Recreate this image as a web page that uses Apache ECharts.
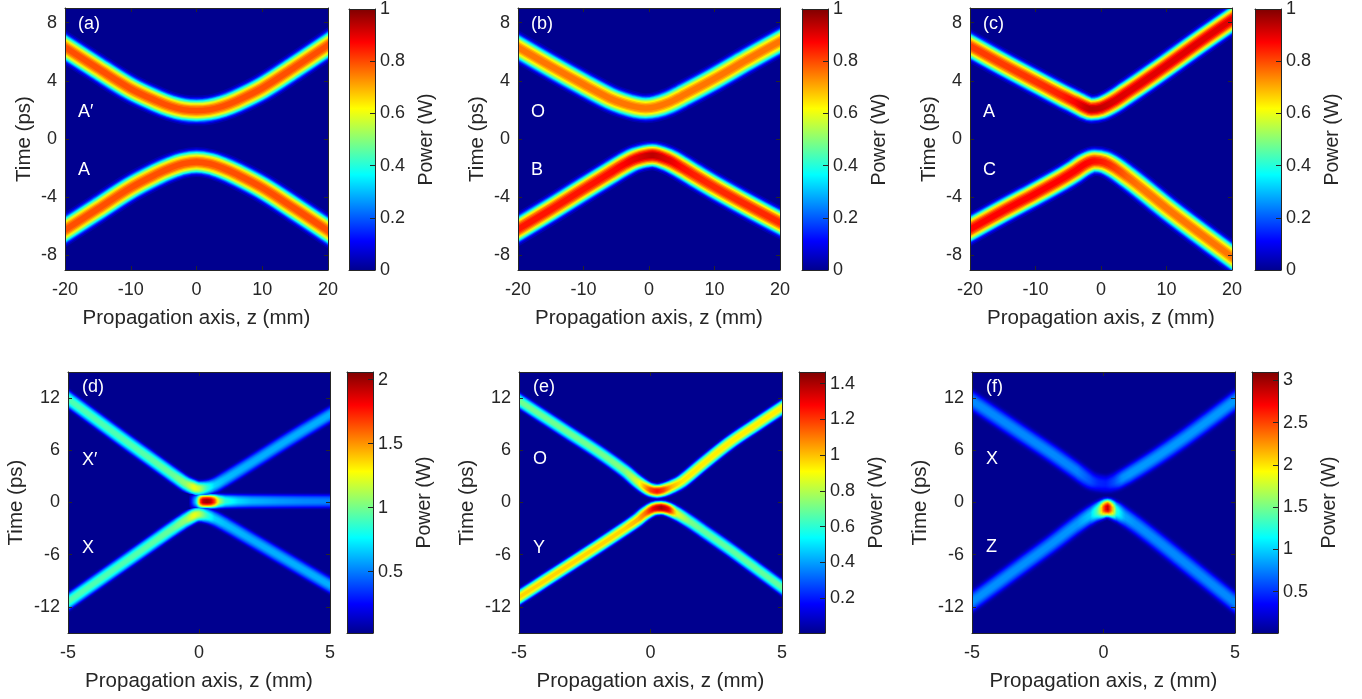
<!DOCTYPE html>
<html><head><meta charset="utf-8">
<script src="https://cdn.jsdelivr.net/npm/echarts@6/dist/echarts.min.js"></script>
<style>html,body{margin:0;padding:0;background:#fff}#c{width:1362px;height:699px}</style>
</head><body><div id="c"></div>
<script>
// ---------------- data ----------------
const panelLetters = ['(a)','(b)','(c)','(d)','(e)','(f)'];
const upperNames = ['A\u2032','O','A','X\u2032','O','X'];
const lowerNames = ['A','B','C','X','Y','Z'];
const xTicksTop = [-20,-10,0,10,20];
const yTicksTop = [-8,-4,0,4,8];
const xTicksBottom = [-5,0,5];
const yTicksBottom = [-12,-6,0,6,12];
const cbarTicksTop = [0,0.2,0.4,0.6,0.8,1];
const cbarTicksD = [0.5,1,1.5,2];
const cbarTicksE = [0.2,0.4,0.6,0.8,1,1.2,1.4];
const cbarTicksF = [0.5,1,1.5,2,2.5,3];
const cbarMin = [0,0,0,0.02,0.005,0.01];
const cbarMax = [1,1,1,2.06,1.465,3.1];

// (a)
const aUpperZ = [-20,-15,-10,-6,-4,-2,0,2,4,6,10,15,20];
const aUpperT = [6.3,4.85,3.45,2.6,2.25,2.02,1.95,2.02,2.25,2.6,3.5,4.95,6.45];
const aUpperP = [0.82,0.82,0.82,0.82,0.82,0.82,0.82,0.82,0.82,0.82,0.82,0.82,0.82];
const aLowerZ = [-20,-15,-10,-6,-4,-2,0,2,4,6,10,15,20];
const aLowerT = [-6.25,-4.8,-3.35,-2.4,-2.0,-1.7,-1.58,-1.7,-2.0,-2.4,-3.35,-4.8,-6.3];
const aLowerP = [0.82,0.82,0.82,0.82,0.82,0.82,0.82,0.82,0.82,0.82,0.82,0.82,0.82];
// (b)
const bUpperZ = [-20,-15,-10,-6,-4,-2,-0.5,1,3,5,10,15,20];
const bUpperT = [6.3,5.0,3.75,2.8,2.45,2.2,2.12,2.2,2.5,2.95,4.15,5.45,6.7];
const bUpperP = [0.78,0.78,0.78,0.78,0.78,0.78,0.78,0.78,0.78,0.78,0.78,0.78,0.78];
const bLowerZ = [-20,-15,-10,-6,-4,-2,0.5,3,5,7,10,15,20];
const bLowerT = [-6.2,-4.85,-3.45,-2.35,-1.8,-1.35,-1.12,-1.45,-1.95,-2.5,-3.3,-4.55,-5.75];
const bLowerP = [0.88,0.88,0.88,0.89,0.9,0.93,0.97,0.93,0.89,0.87,0.86,0.86,0.86];
// (c)
const cUpperZ = [-20,-15,-10,-6,-4,-2.5,-1.5,0,2,4,6,10,15,20];
const cUpperT = [6.4,5.15,3.95,3.0,2.55,2.2,2.05,2.15,2.6,3.2,3.8,5.05,6.65,8.2];
const cUpperP = [0.84,0.84,0.85,0.87,0.9,0.95,0.97,0.96,0.94,0.93,0.93,0.93,0.93,0.93];
const cLowerZ = [-20,-15,-10,-6,-4,-2.5,-1,0.5,2,4,6,10,15,20];
const cLowerT = [-6.2,-4.95,-3.75,-2.75,-2.2,-1.75,-1.5,-1.6,-1.95,-2.6,-3.3,-4.75,-6.45,-8.1];
const cLowerP = [0.9,0.9,0.9,0.9,0.9,0.9,0.89,0.87,0.84,0.8,0.78,0.78,0.78,0.78];
// (d)
const dUpperZ = [-5,-4,-3,-2,-1,-0.5,-0.2,0,0.3,0.6,1,2,3,4,5];
const dUpperT = [11.9,9.7,7.5,5.35,3.2,2.15,1.75,1.6,1.7,2.0,2.7,4.55,6.45,8.3,10.1];
const dUpperP = [0.95,0.95,0.95,0.97,1.0,1.1,1.3,1.2,0.9,0.7,0.65,0.62,0.62,0.62,0.62];
const dLowerZ = [-5,-4,-3,-2,-1,-0.5,-0.2,0,0.3,0.6,1,2,3,4,5];
const dLowerT = [-11.4,-9.3,-7.2,-5.1,-3.0,-2.0,-1.5,-1.35,-1.5,-1.85,-2.5,-4.25,-6.0,-7.75,-9.5];
const dLowerP = [0.95,0.95,0.95,0.97,1.0,1.1,1.3,1.2,0.9,0.7,0.65,0.62,0.62,0.62,0.62];
const dMidZ = [-0.4,-0.1,0.05,0.15,0.3,0.45,0.6,0.75,1.0,1.5,2,3,4,5];
const dMidT = [0.15,0.15,0.15,0.15,0.15,0.15,0.15,0.15,0.15,0.15,0.15,0.15,0.15,0.15];
const dMidP = [0,0.75,1.7,2.0,2.06,2.0,1.7,1.2,0.88,0.72,0.64,0.58,0.54,0.52];
// (e)
const eUpperZ = [-5,-4,-3,-2,-1,-0.5,-0.2,0,0.25,0.5,0.8,1.2,2,3,4,5];
const eUpperT = [11.7,9.75,7.8,5.85,3.7,2.4,1.75,1.45,1.32,1.45,1.8,2.45,4.45,6.85,8.9,10.9];
const eUpperP = [0.72,0.72,0.72,0.72,0.75,0.88,1.08,1.22,1.3,1.22,1.05,0.97,0.96,0.96,0.96,0.96];
const eLowerZ = [-5,-4,-3,-2,-1,-0.5,-0.2,0.1,0.4,0.7,1,1.5,2,3,4,5];
const eLowerT = [-10.9,-8.95,-7.0,-5.05,-3.05,-2.0,-1.25,-0.72,-0.6,-0.8,-1.25,-2.2,-3.25,-5.35,-7.55,-9.75];
const eLowerP = [1.0,1.0,1.0,1.0,1.0,1.05,1.15,1.35,1.46,1.35,0.9,0.74,0.7,0.7,0.7,0.7];
// (f)
const fUpperZ = [-5,-4,-3,-2,-1,-0.5,-0.2,0.1,0.4,0.7,1,2,3,4,5];
const fUpperT = [11.7,9.7,7.7,5.7,3.6,2.55,2.25,2.15,2.35,2.8,3.3,5.2,7.25,9.45,11.7];
const fUpperP = [0.8,0.8,0.8,0.8,0.78,0.62,0.48,0.45,0.6,0.82,0.85,0.85,0.85,0.85,0.85];
const fLowerZ = [-5,-4,-3,-2,-1,-0.5,-0.2,0,0.15,0.3,0.5,0.8,1.2,2,3,4,5];
const fLowerT = [-11.4,-9.2,-7.0,-4.8,-2.5,-1.45,-0.95,-0.7,-0.62,-0.72,-1.0,-1.6,-2.45,-4.3,-6.7,-9.1,-11.5];
const fLowerP = [0.82,0.82,0.82,0.82,0.85,1.0,1.5,2.5,3.05,2.4,1.3,0.9,0.82,0.8,0.8,0.8,0.8];

// ---------------- styling ----------------
const FONT = '"Liberation Sans", Arial, Helvetica, sans-serif';
const TXT = '#262626';
const JET = [[0,[0,0,0.5625]],[0.111,[0,0,1]],[0.365,[0,1,1]],[0.619,[1,1,0]],[0.873,[1,0,0]],[1,[0.5,0,0]]];
function rgb(c){ return 'rgb(' + c.map(x => Math.round(x*255)).join(',') + ')'; }
function jet(v){
  v = Math.max(0, Math.min(1, v));
  for (let i = 1; i < JET.length; i++) {
    if (v <= JET[i][0]) {
      const a = JET[i-1], b = JET[i];
      const u = (v - a[0]) / (b[0] - a[0]);
      return rgb(a[1].map((x, j) => x + (b[1][j] - x) * u));
    }
  }
  return rgb(JET[JET.length-1][1]);
}
// pulse cross-section layers: fraction of local peak power and relative stroke width
const LEVELS = [0.04,0.1,0.18,0.27,0.36,0.45,0.54,0.63,0.72,0.8,0.87,0.93,0.97];
const GAINS  = [1.0,0.9,0.82,0.76,0.71,0.66,0.61,0.55,0.49,0.42,0.35,0.27,0.18];

const panels = [
  {grid:[65,8,263,262], cbar:[349,8,26,262], xr:[-20,20], yr:[-9,9], xt:xTicksTop, yt:yTicksTop, ct:cbarTicksTop, nameGapY:30,
   labels:[[78,24],[78,112],[78,170]],
   branches:[{z:aUpperZ,t:aUpperT,p:aUpperP,w:30},{z:aLowerZ,t:aLowerT,p:aLowerP,w:30}]},
  {grid:[518,8,262,262], cbar:[802,8,26,262], xr:[-20,20], yr:[-9,9], xt:xTicksTop, yt:yTicksTop, ct:cbarTicksTop, nameGapY:30,
   labels:[[531,24],[531,112],[531,170]],
   branches:[{z:bUpperZ,t:bUpperT,p:bUpperP,w:30},{z:bLowerZ,t:bLowerT,p:bLowerP,w:30}]},
  {grid:[970,8,262,262], cbar:[1255,8,26,262], xr:[-20,20], yr:[-9,9], xt:xTicksTop, yt:yTicksTop, ct:cbarTicksTop, nameGapY:30,
   labels:[[983,24],[983,112],[983,170]],
   branches:[{z:cUpperZ,t:cUpperT,p:cUpperP,w:30},{z:cLowerZ,t:cLowerT,p:cLowerP,w:30}]},
  {grid:[68,372,262,261], cbar:[347,372,26,261], xr:[-5,5], yr:[-15,15], xt:xTicksBottom, yt:yTicksBottom, ct:cbarTicksD, nameGapY:41,
   labels:[[82,387],[82,460],[82,548]],
   branches:[{z:dUpperZ,t:dUpperT,p:dUpperP,w:20},{z:dLowerZ,t:dLowerT,p:dLowerP,w:20},{z:dMidZ,t:dMidT,p:dMidP,w:19}]},
  {grid:[519,372,263,261], cbar:[799,372,26,261], xr:[-5,5], yr:[-15,15], xt:xTicksBottom, yt:yTicksBottom, ct:cbarTicksE, nameGapY:41,
   labels:[[533,387],[533,459],[533,548]],
   branches:[{z:eUpperZ,t:eUpperT,p:eUpperP,w:18},{z:eLowerZ,t:eLowerT,p:eLowerP,w:18}]},
  {grid:[972,372,263,261], cbar:[1252,372,26,261], xr:[-5,5], yr:[-15,15], xt:xTicksBottom, yt:yTicksBottom, ct:cbarTicksF, nameGapY:41,
   labels:[[986,387],[986,459],[986,547]],
   branches:[{z:fUpperZ,t:fUpperT,p:fUpperP,w:24},{z:fLowerZ,t:fLowerT,p:fLowerP,w:24}]}
];

const chart = echarts.init(document.getElementById('c'), null, {renderer:'canvas'});
const grids = [], xAxes = [], yAxes = [], graphics = [];
const lineSt = {color: TXT, width: 1};
const fmt = v => String(Math.round(v*100)/100);

panels.forEach((P, i) => {
  const gMain = grids.length;
  grids.push({left:P.grid[0], top:P.grid[1], width:P.grid[2], height:P.grid[3], show:true, backgroundColor: jet(0), borderWidth:0});
  const gCb = grids.length;
  grids.push({left:P.cbar[0], top:P.cbar[1], width:P.cbar[2], height:P.cbar[3], show:false});
  // main axes
  P.xi = xAxes.length;
  xAxes.push({gridIndex:gMain, type:'value', min:P.xr[0], max:P.xr[1], position:'bottom', z:50,
    axisLine:{show:true, onZero:false, lineStyle:lineSt},
    axisTick:{show:true, inside:true, length:4, customValues:P.xt, lineStyle:lineSt},
    axisLabel:{show:true, customValues:P.xt, margin:11, color:TXT, fontSize:18, fontFamily:FONT, formatter:fmt},
    splitLine:{show:false},
    name:'Propagation axis, z (mm)', nameLocation:'middle', nameGap:38,
    nameTextStyle:{color:TXT, fontSize:20.5, fontFamily:FONT}});
  xAxes.push({gridIndex:gMain, type:'value', min:P.xr[0], max:P.xr[1], position:'top', z:50,
    axisLine:{show:true, onZero:false, lineStyle:lineSt},
    axisTick:{show:true, inside:true, length:4, customValues:P.xt, lineStyle:lineSt},
    axisLabel:{show:false}, splitLine:{show:false}});
  P.yi = yAxes.length;
  yAxes.push({gridIndex:gMain, type:'value', min:P.yr[0], max:P.yr[1], position:'left', z:50,
    axisLine:{show:true, onZero:false, lineStyle:lineSt},
    axisTick:{show:true, inside:true, length:4, customValues:P.yt, lineStyle:lineSt},
    axisLabel:{show:true, customValues:P.yt, margin:8, color:TXT, fontSize:18, fontFamily:FONT, formatter:fmt},
    splitLine:{show:false},
    name:'Time (ps)', nameLocation:'middle', nameRotate:90, nameGap:P.nameGapY,
    nameTextStyle:{color:TXT, fontSize:20.5, fontFamily:FONT}});
  yAxes.push({gridIndex:gMain, type:'value', min:P.yr[0], max:P.yr[1], position:'right', z:50,
    axisLine:{show:true, onZero:false, lineStyle:lineSt},
    axisTick:{show:true, inside:true, length:4, customValues:P.yt, lineStyle:lineSt},
    axisLabel:{show:false}, splitLine:{show:false}});
  // colorbar axes
  P.cxi = xAxes.length;
  xAxes.push({gridIndex:gCb, type:'value', min:0, max:1, position:'bottom', z:50,
    axisLine:{show:true, onZero:false, lineStyle:lineSt}, axisTick:{show:false}, axisLabel:{show:false}, splitLine:{show:false}});
  xAxes.push({gridIndex:gCb, type:'value', min:0, max:1, position:'top', z:50,
    axisLine:{show:true, onZero:false, lineStyle:lineSt}, axisTick:{show:false}, axisLabel:{show:false}, splitLine:{show:false}});
  P.cyi = yAxes.length;
  yAxes.push({gridIndex:gCb, type:'value', min:cbarMin[i], max:cbarMax[i], position:'right', z:50,
    axisLine:{show:true, onZero:false, lineStyle:lineSt},
    axisTick:{show:true, inside:true, length:5, customValues:P.ct, lineStyle:lineSt},
    axisLabel:{show:true, customValues:P.ct, margin:5, color:TXT, fontSize:18, fontFamily:FONT, formatter:fmt},
    splitLine:{show:false},
    name:'Power (W)', nameLocation:'middle', nameRotate:90, nameGap:42,
    nameTextStyle:{color:TXT, fontSize:19.5, fontFamily:FONT}});
  yAxes.push({gridIndex:gCb, type:'value', min:cbarMin[i], max:cbarMax[i], position:'left', z:50,
    axisLine:{show:true, onZero:false, lineStyle:lineSt}, axisTick:{show:false}, axisLabel:{show:false}, splitLine:{show:false}});
  // white masks around the plot area (hide the stroke overflow beyond the axes box)
  const L = P.grid[0], T = P.grid[1], W = P.grid[2], H = P.grid[3];
  const maskStyle = {fill:'#ffffff'};
  graphics.push({type:'rect', silent:true, z:40, shape:{x:L-24, y:T-24, width:W+42, height:24}, style:maskStyle});
  graphics.push({type:'rect', silent:true, z:40, shape:{x:L-24, y:T+H, width:W+42, height:24}, style:maskStyle});
  graphics.push({type:'rect', silent:true, z:40, shape:{x:L-24, y:T-24, width:24, height:H+48}, style:maskStyle});
  graphics.push({type:'rect', silent:true, z:40, shape:{x:L+W, y:T-24, width:18, height:H+48}, style:maskStyle});
  // white annotations
  [panelLetters[i], upperNames[i], lowerNames[i]].forEach((txt, k) => {
    graphics.push({type:'text', x:P.labels[k][0], y:P.labels[k][1], z:100, silent:true,
      style:{text:txt, fill:'#ffffff', fontSize:18, fontFamily:FONT, align:'left', verticalAlign:'middle'}});
  });
});

chart.setOption({animation:false, backgroundColor:'#ffffff', grid:grids, xAxis:xAxes, yAxis:yAxes});

function interp(zs, ps, z){
  if (z <= zs[0]) return ps[0];
  for (let k = 1; k < zs.length; k++) {
    if (z <= zs[k]) { const u = (z - zs[k-1]) / (zs[k] - zs[k-1]); return ps[k-1] + (ps[k] - ps[k-1]) * u; }
  }
  return ps[ps.length-1];
}

const series = [];
const N = 120;
panels.forEach((P, i) => {
  const cmin = cbarMin[i], cmax = cbarMax[i];
  // colorbar
  series.push({type:'line', xAxisIndex:P.cxi, yAxisIndex:P.cyi, data:[[0,cmax],[1,cmax]], symbol:'none', silent:true, z:2,
    lineStyle:{width:0}, areaStyle:{origin:'start', opacity:1,
      color:new echarts.graphic.LinearGradient(0,1,0,0, JET.map(s => ({offset:s[0], color:rgb(s[1])})))}});
  // pulses as layered strokes
  LEVELS.forEach((f, li) => {
    P.branches.forEach(B => {
      const z0 = B.z[0], z1 = B.z[B.z.length-1];
      const x0 = chart.convertToPixel({xAxisIndex:P.xi}, z0);
      const x1 = chart.convertToPixel({xAxisIndex:P.xi}, z1);
      const stops = [];
      for (let s = 0; s <= N; s++) {
        const z = z0 + (z1 - z0) * s / N;
        const p = interp(B.z, B.p, z);
        stops.push({offset:s/N, color:jet((f*p - cmin)/(cmax - cmin))});
      }
      series.push({type:'line', xAxisIndex:P.xi, yAxisIndex:P.yi,
        data:B.z.map((z, k) => [z, B.t[k]]),
        symbol:'none', showSymbol:false, smooth:0.35, clip:true, silent:true, z:3+li,
        lineStyle:{width:B.w*GAINS[li], cap:'square', join:'round',
          color:new echarts.graphic.LinearGradient(x0,0,x1,0,stops,true)}});
    });
  });
});

chart.setOption({series:series, graphic:graphics});
</script></body></html>
